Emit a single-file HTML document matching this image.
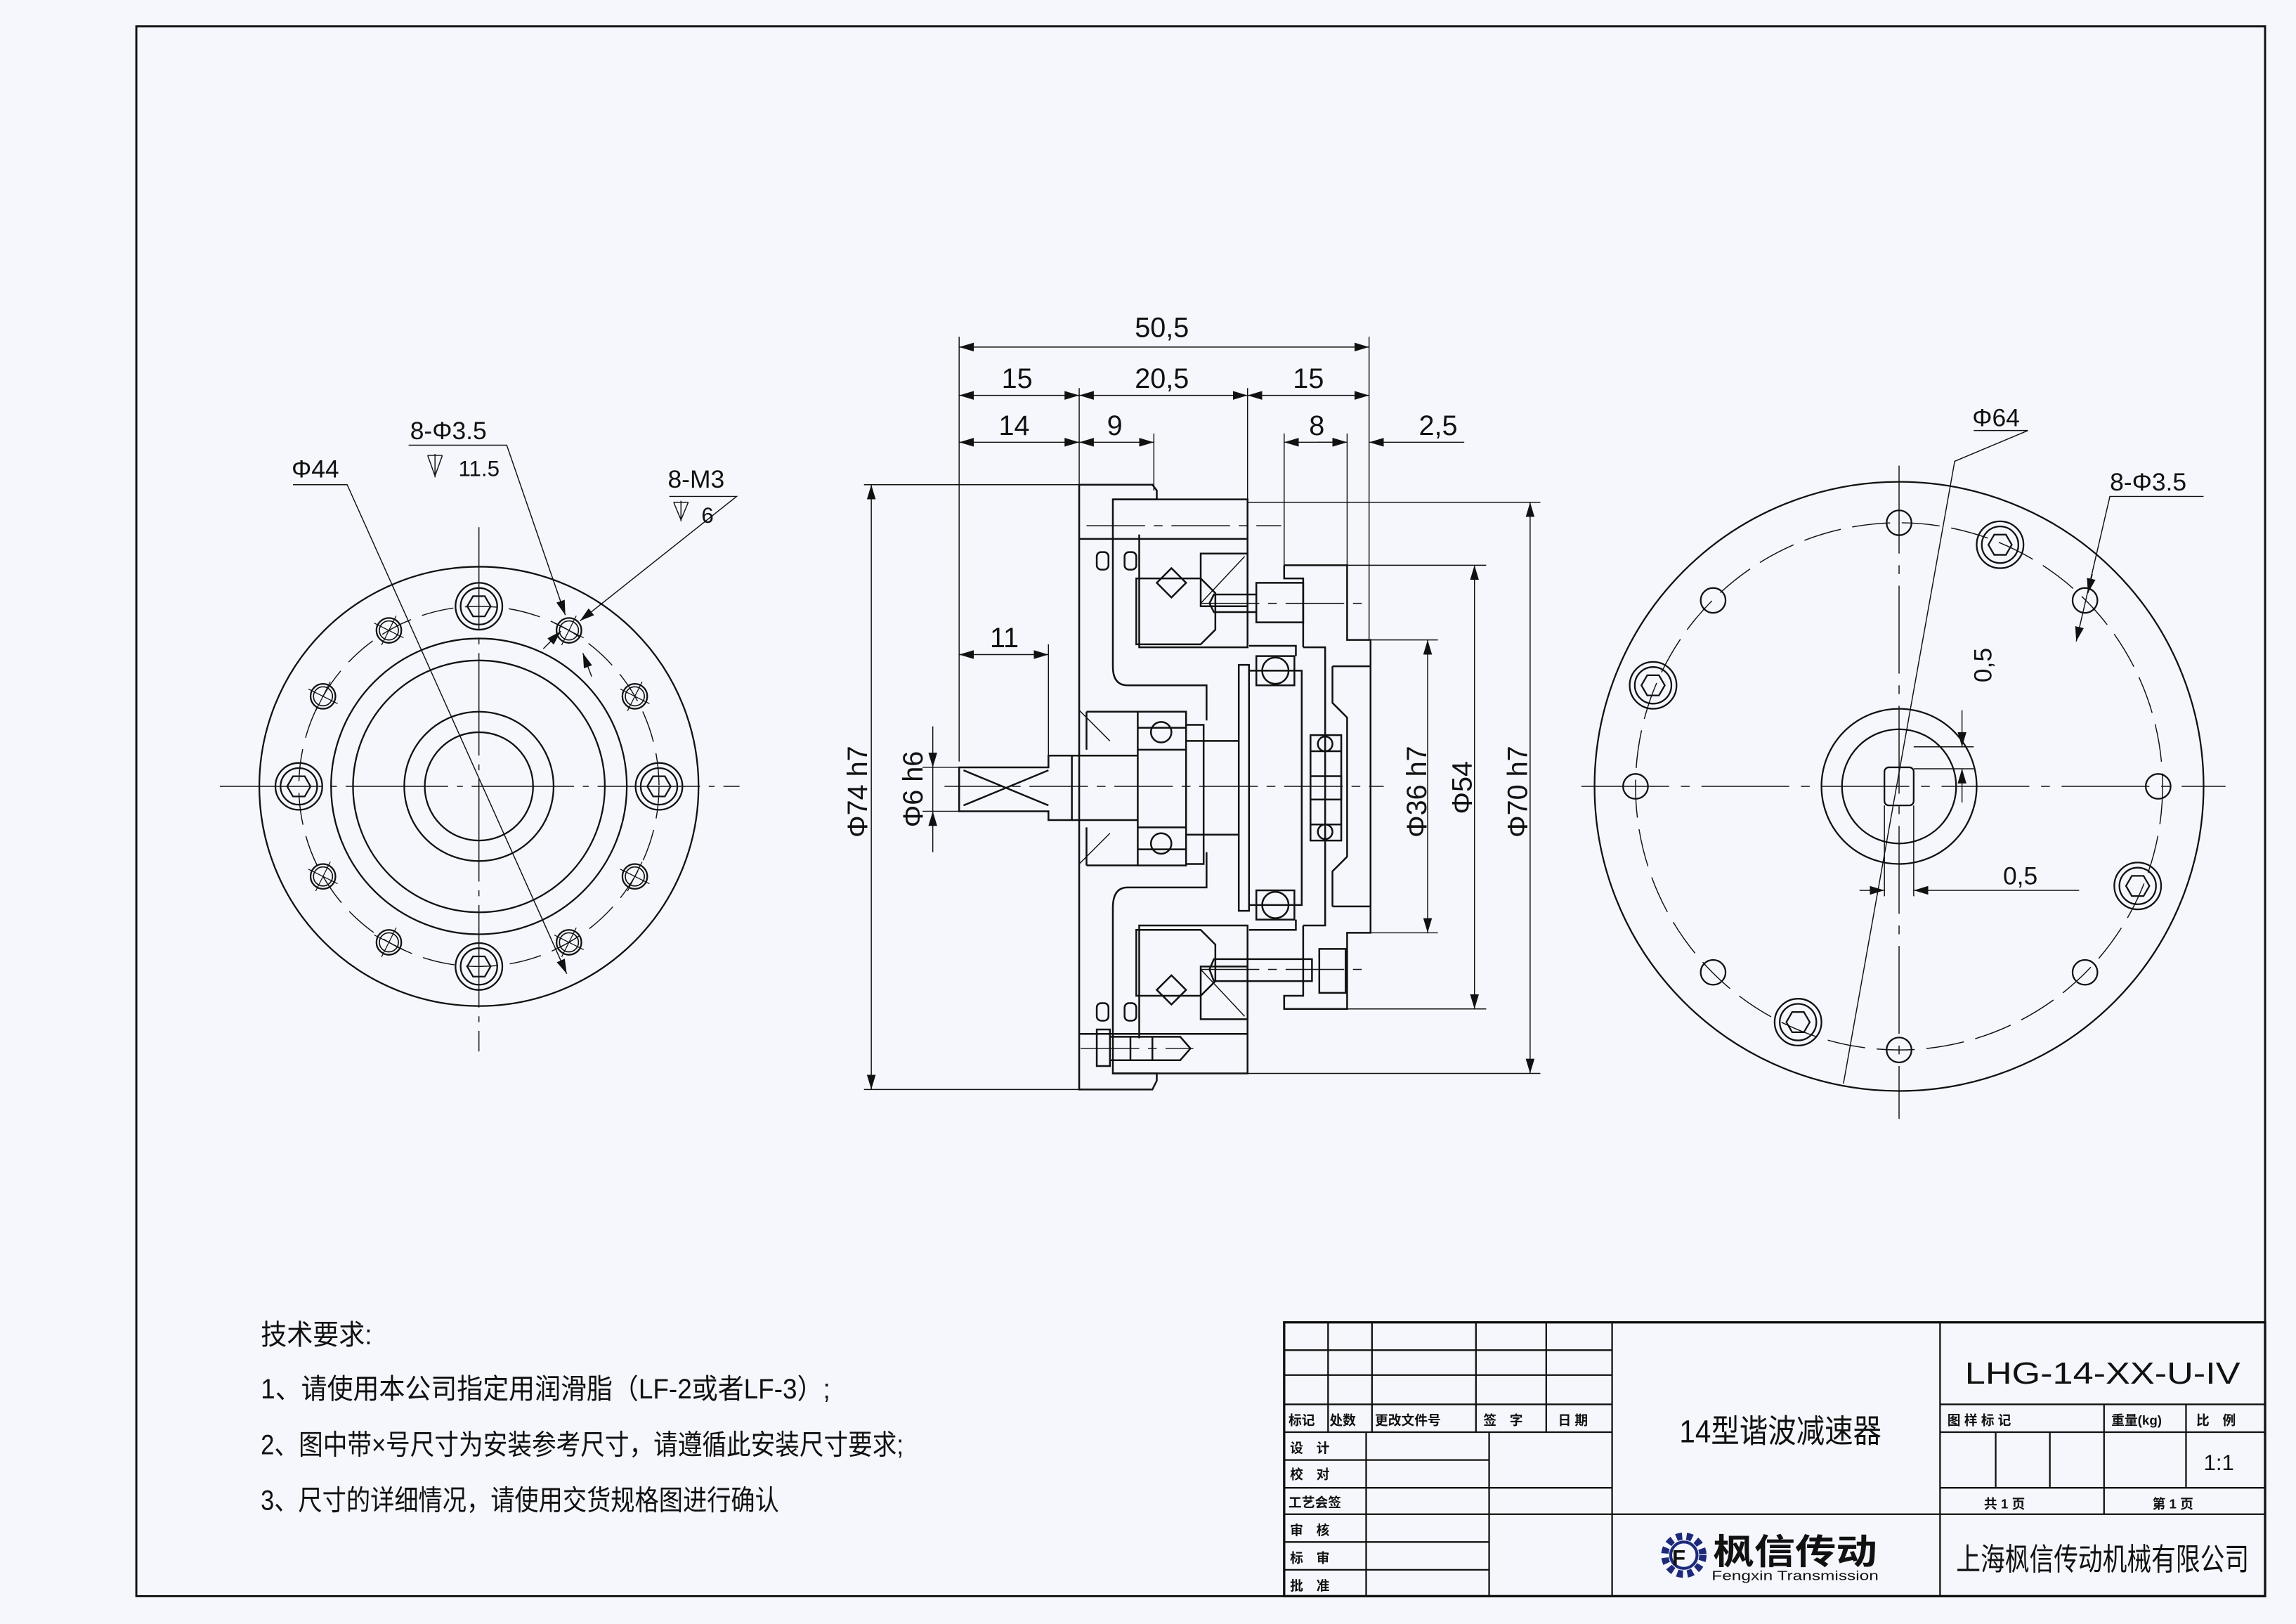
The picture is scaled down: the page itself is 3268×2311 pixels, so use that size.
<!DOCTYPE html>
<html><head><meta charset="utf-8"><style>
html,body{margin:0;padding:0;background:#f5f7fc;}
svg{display:block}
text{font-family:"Liberation Sans","Noto Sans CJK SC",sans-serif;fill:#111}
</style></head><body>
<svg width="3268" height="2311" viewBox="0 0 1568 1109" xmlns="http://www.w3.org/2000/svg">
<defs>
<marker id="a" viewBox="0 0 10 6" refX="10" refY="3" markerWidth="10" markerHeight="6" orient="auto-start-reverse" markerUnits="userSpaceOnUse"><path d="M0,0L10,3L0,6z" fill="#111"/></marker>
<g id="hexL"><circle r="16" fill="none" stroke="#111" stroke-width="1.1"/><circle r="12.5" fill="none" stroke="#111" stroke-width="1.1"/><polygon points="8,0 4,6.9 -4,6.9 -8,0 -4,-6.9 4,-6.9" fill="none" stroke="#111" stroke-width="1.1"/></g>
<g id="sh"><circle r="8.5" fill="none" stroke="#111" stroke-width="1.1"/><circle r="6.5" fill="none" stroke="#111" stroke-width="0.8"/><path d="M-10,-5L10,5M-5,10L5,-10" stroke="#111" stroke-width="0.6"/></g>
<g id="sr"><circle r="8.5" fill="none" stroke="#111" stroke-width="1.1"/></g>
</defs>
<rect x="0" y="0" width="1568" height="1109" fill="#f5f7fc"/>
<rect x="93" y="18" width="1454" height="1072" fill="none" stroke="#111" stroke-width="1.4"/>

<!-- LEFT VIEW -->
<g stroke="#111" fill="none" stroke-width="1.1">
<circle cx="327" cy="537" r="150"/>
<circle cx="327" cy="537" r="101"/>
<circle cx="327" cy="537" r="86"/>
<circle cx="327" cy="537" r="51"/>
<circle cx="327" cy="537" r="37"/>
<circle cx="327" cy="537" r="123" stroke-width="0.7" stroke-dasharray="22,8"/>
<path d="M150,537H505M327,360V718" stroke-width="0.7" stroke-dasharray="70,6,4,6"/>
</g>
<use href="#hexL" x="327" y="414"/><use href="#hexL" x="450" y="537"/><use href="#hexL" x="327" y="660"/><use href="#hexL" x="204" y="537"/>
<use href="#sh" x="388.5" y="430.5"/><use href="#sh" x="433.5" y="475.5"/><use href="#sh" x="433.5" y="598.5"/><use href="#sh" x="388.5" y="643.5"/>
<use href="#sh" x="265.5" y="643.5"/><use href="#sh" x="220.5" y="598.5"/><use href="#sh" x="220.5" y="475.5"/><use href="#sh" x="265.5" y="430.5"/>
<g stroke="#111" fill="none" stroke-width="0.7">
<path d="M200,331H237L387,665" marker-end="url(#a)"/>
<path d="M279,304H346L386,420" marker-end="url(#a)"/>
<path d="M457,339H503L396,424" marker-end="url(#a)"/>
<path d="M371,443L383,431" marker-end="url(#a)"/>
<path d="M404,462L398,446" marker-end="url(#a)"/>
<path d="M297,310v16M292,311h10M292,311l5,14 5,-14M465,342v14M460,343h10M460,343l5,12 5,-12"/>
</g>
<text x="199" y="326" font-size="17">Φ44</text>
<text x="280" y="300" font-size="17">8-Φ3.5</text>
<text x="313" y="325" font-size="15">11.5</text>
<text x="456" y="333" font-size="17">8-M3</text>
<text x="479" y="357" font-size="15">6</text>

<!-- CENTER SECTION -->
<g stroke="#111" fill="none" stroke-width="1.2">
<path d="M737,331H787L790,335V341H760V455Q760,468 770,468H824V492"/>
<path d="M737,331V744H787L790,738V733H760V620Q760,606 770,606H824V582"/>
<path d="M760,341H852V442H778V365"/>
<path d="M760,733H852V632H778V709"/>
<path d="M737,368H852M737,706H852"/>
<path d="M776,395H820L830,405V430L820,440H776Z"/>
<path d="M776,680H820L830,670V645L820,635H776Z"/>
<polygon points="790,398 800,388 810,398 800,408"/><polygon points="790,676 800,666 810,676 800,686"/>
<path d="M820,378H852V414H820ZM820,696H852V660H820Z"/>
<path d="M820,412l30,-32M820,662l30,32" stroke-width="0.7"/>
<rect x="749" y="377" width="8" height="12" rx="3"/><rect x="768" y="377" width="8" height="12" rx="3"/>
<rect x="749" y="685" width="8" height="12" rx="3"/><rect x="768" y="685" width="8" height="12" rx="3"/>
<path d="M655,524H716V516H732V560H716V554H655Z"/>
<path d="M658,526L716,550M658,550L716,526"/>
<path d="M732,516H777M732,560H777"/>
<path d="M737,485L758,506M737,590L758,569" stroke-width="0.7"/>
<rect x="777" y="486" width="33" height="105"/>
<path d="M777,497H810M777,512H810M777,565H810M777,580H810"/>
<circle cx="793" cy="500" r="7"/><circle cx="793" cy="576" r="7"/>
<path d="M810,495H822V590H810M742,486H777M742,591H777M742,486V512M742,565V591"/>
<path d="M810,506H846M810,570H846"/>
<path d="M846,454H853V622H846Z"/>
<path d="M853,458H889V618H853"/>
<path d="M858,448H884V468H858ZM858,608H884V628H858Z"/>
<circle cx="871" cy="458" r="9"/><circle cx="871" cy="618" r="9"/>
<path d="M853,441H885V448M853,635H885V628"/>
<path d="M877,386H920V437H936V637H920V689H877V680"/>
<path d="M877,386V395H890V442M877,689V680H890V632"/>
<path d="M890,442H905V632H890"/>
<path d="M910,455H936M910,619H936M910,455V480L920,490V585L910,595V619"/>
<rect x="895" y="502" width="21" height="72"/>
<path d="M895,513H916M895,563H916M895,530H916V546H895"/>
<circle cx="905" cy="508" r="5"/><circle cx="905" cy="568" r="5"/>
<path d="M858,398H890V425H858ZM829,406H858V418H829L826,412Z"/>
<path d="M829,655H896V670H829L826,662Z"/>
<rect x="901" y="648" width="18" height="30"/>
<path d="M749,703H758V728H749Z"/><path d="M758,708H806L813,716L806,724H758"/>
<path d="M772,708V724M787,708V724"/>
</g>
<g stroke="#111" fill="none" stroke-width="0.7" stroke-dasharray="40,6,6,6">
<path d="M645,537H945"/><path d="M742,359H875"/><path d="M820,412H935"/><path d="M820,662H935"/><path d="M738,716H815"/>
</g>
<g stroke="#111" fill="none" stroke-width="0.7">
<path d="M655,230V520M737,265V335M852,265V386M935,230V437M716,440V520M788,296V335M877,296V386M920,296V386"/>
<path d="M655,237H935" marker-start="url(#a)" marker-end="url(#a)"/>
<path d="M655,270H737" marker-start="url(#a)" marker-end="url(#a)"/>
<path d="M737,270H852" marker-start="url(#a)" marker-end="url(#a)"/>
<path d="M852,270H935" marker-start="url(#a)" marker-end="url(#a)"/>
<path d="M655,302H737" marker-start="url(#a)" marker-end="url(#a)"/>
<path d="M737,302H788" marker-start="url(#a)" marker-end="url(#a)"/>
<path d="M877,302H920" marker-start="url(#a)" marker-end="url(#a)"/>
<path d="M900,302H920" marker-end="url(#a)"/><path d="M1000,302H935" marker-end="url(#a)"/>
<path d="M655,447H716" marker-start="url(#a)" marker-end="url(#a)"/>
<path d="M590,331H737M590,744H737"/>
<path d="M595,331V744" marker-start="url(#a)" marker-end="url(#a)"/>
<path d="M630,524H655M630,554H655"/>
<path d="M637,496V524" marker-end="url(#a)"/><path d="M637,582V554" marker-end="url(#a)"/><path d="M637,524V554"/>
<path d="M936,437H982M936,637H982"/>
<path d="M975,437V637" marker-start="url(#a)" marker-end="url(#a)"/>
<path d="M920,386H1015M920,689H1015"/>
<path d="M1007,386V689" marker-start="url(#a)" marker-end="url(#a)"/>
<path d="M852,343H1052M852,733H1052"/>
<path d="M1045,343V733" marker-start="url(#a)" marker-end="url(#a)"/>
</g>
<g font-size="19">
<text x="775" y="230">50,5</text>
<text x="684" y="265">15</text><text x="775" y="265">20,5</text><text x="883" y="265">15</text>
<text x="682" y="297">14</text><text x="756" y="297">9</text><text x="894" y="297">8</text><text x="969" y="297">2,5</text>
<text x="676" y="442">11</text>
<text transform="translate(592,572) rotate(-90)">Φ74 h7</text>
<text transform="translate(630,565) rotate(-90)">Φ6 h6</text>
<text transform="translate(974,572) rotate(-90)">Φ36 h7</text>
<text transform="translate(1005,556) rotate(-90)">Φ54</text>
<text transform="translate(1043,572) rotate(-90)">Φ70 h7</text>
</g>

<!-- RIGHT VIEW -->
<g stroke="#111" fill="none" stroke-width="1.1">
<circle cx="1297" cy="537" r="208"/>
<circle cx="1297" cy="537" r="180" stroke-width="0.7" stroke-dasharray="26,8"/>
<circle cx="1297" cy="537" r="53"/>
<circle cx="1297" cy="537" r="39"/>
<rect x="1287" y="524" width="20" height="26" rx="3"/>
<path d="M1080,537H1520M1297,318V764" stroke-width="0.7" stroke-dasharray="60,8,6,8"/>
</g>
<use href="#sr" x="1297" y="357"/><use href="#sr" x="1474" y="537"/><use href="#sr" x="1297" y="717"/><use href="#sr" x="1117" y="537"/>
<use href="#sr" x="1424" y="410"/><use href="#sr" x="1424" y="664"/><use href="#sr" x="1170" y="664"/><use href="#sr" x="1170" y="410"/>
<use href="#hexL" x="1366" y="372"/><use href="#hexL" x="1129" y="468"/><use href="#hexL" x="1460" y="605"/><use href="#hexL" x="1228" y="698"/>
<g stroke="#111" fill="none" stroke-width="0.7">
<path d="M1348,294H1385L1335,315L1259,740"/>
<path d="M1505,339H1441L1418,438" marker-end="url(#a)"/>
<path d="M1429,392L1426,405" marker-end="url(#a)"/>
<path d="M1307,510H1348M1307,525H1348"/>
<path d="M1340,485V510" marker-end="url(#a)"/><path d="M1340,548V525" marker-end="url(#a)"/>
<path d="M1287,550V612M1307,550V612"/>
<path d="M1270,608H1287" marker-end="url(#a)"/><path d="M1420,608H1307" marker-end="url(#a)"/>
</g>
<text x="1347" y="291" font-size="17">Φ64</text>
<text x="1441" y="335" font-size="17">8-Φ3.5</text>
<text transform="translate(1360,466) rotate(-90)" font-size="17">0,5</text>
<text x="1368" y="604" font-size="17">0,5</text>

<!-- TECH REQUIREMENTS -->
<g font-size="19">
<text x="178" y="918" textLength="76" lengthAdjust="spacingAndGlyphs">技术要求:</text>
<text x="178" y="955" textLength="389" lengthAdjust="spacingAndGlyphs">1、请使用本公司指定用润滑脂（LF-2或者LF-3）;</text>
<text x="178" y="993" textLength="439" lengthAdjust="spacingAndGlyphs">2、图中带×号尺寸为安装参考尺寸，请遵循此安装尺寸要求;</text>
<text x="178" y="1031" textLength="354" lengthAdjust="spacingAndGlyphs">3、尺寸的详细情况，请使用交货规格图进行确认</text>
</g>

<!-- TITLE BLOCK -->
<g stroke="#111" fill="none" stroke-width="1.1">
<rect x="877" y="903" width="670" height="187" stroke-width="1.6"/>
<path d="M877,922H1101M877,939H1101M877,959H1101M877,978H1101M877,997H1017M877,1016H1101M877,1034H1101M877,1053H1017M877,1072H1017"/>
<path d="M907,903V978M937,903V978M1008,903V978M1056,903V978"/>
<path d="M933,978V1090M1017,978V1090"/>
<path d="M1101,903V1090M1325,903V1090M1101,1034H1547"/>
<path d="M1325,959H1547M1325,978H1547M1325,1016H1547"/>
<path d="M1363,978V1016M1400,978V1016M1437,959V1034M1493,959V1016"/>
</g>
<g font-size="9" font-weight="bold">
<text x="880" y="973">标记</text><text x="908" y="973">处数</text><text x="939" y="973">更改文件号</text><text x="1013" y="973">签　字</text><text x="1064" y="973">日 期</text>
<text x="881" y="992">设　计</text><text x="881" y="1010">校　对</text><text x="880" y="1029">工艺会签</text>
<text x="881" y="1048">审　核</text><text x="881" y="1067">标　审</text><text x="881" y="1086">批　准</text>
<text x="1330" y="973">图 样 标 记</text><text x="1442" y="973">重量(kg)</text><text x="1500" y="973">比　例</text>
<text x="1355" y="1030">共 1 页</text><text x="1470" y="1030">第 1 页</text>
</g>
<text x="1147" y="985" font-size="22" textLength="138" lengthAdjust="spacingAndGlyphs">14型谐波减速器</text>
<text x="1342" y="945" font-size="21" textLength="188" lengthAdjust="spacingAndGlyphs">LHG-14-XX-U-IV</text>
<text x="1505" y="1004" font-size="15">1:1</text>
<text x="1336" y="1072" font-size="21" fill="#333" textLength="200" lengthAdjust="spacingAndGlyphs">上海枫信传动机械有限公司</text>
<g>
<circle cx="1150" cy="1062" r="13" fill="none" stroke="#1d2a7a" stroke-width="5" stroke-dasharray="4,3"/>
<circle cx="1150" cy="1062" r="9" fill="#f5f7fc" stroke="#1d2a7a" stroke-width="2"/>
<text x="1142" y="1069" font-size="15" font-weight="bold" fill="#d0202a">F</text>
<text x="1170" y="1068" font-size="24" font-weight="bold" fill="#1d2a7a" textLength="112" lengthAdjust="spacingAndGlyphs">枫信传动</text>
<text x="1169" y="1079" font-size="9" fill="#1d2a7a" textLength="114" lengthAdjust="spacingAndGlyphs">Fengxin Transmission</text>
</g>
</svg>
</body></html>
